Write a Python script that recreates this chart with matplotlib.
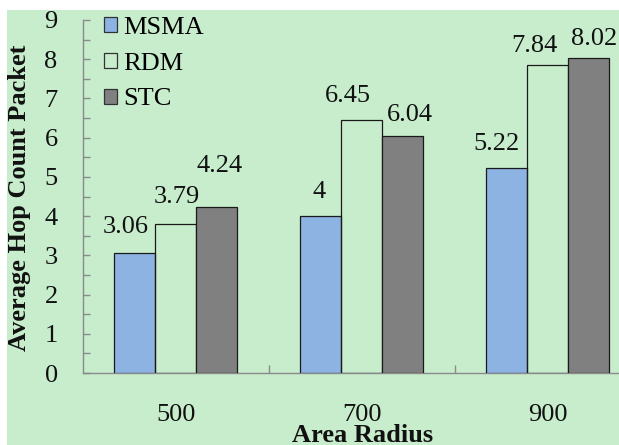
import matplotlib
matplotlib.use("Agg")
import matplotlib.pyplot as plt
from matplotlib import font_manager as fm
from matplotlib.patches import Rectangle, Patch
from matplotlib.ticker import MultipleLocator
import numpy as np

# ---- data ----
radii = ["500", "700", "900"]
series_names = ["MSMA", "RDM", "STC"]
msma = [3.06, 4, 5.22]
rdm = [3.79, 6.45, 7.84]
stc = [4.24, 6.04, 8.02]
y_ticks = [0, 1, 2, 3, 4, 5, 6, 7, 8, 9]

# ---- style ----
W, H, DPI = 619, 445, 100
bg_green = "#C8EDCC"
bar_colors = ["#8DB3E2", "none", "#808080"]
axis_gray = "#8A8A8A"
fs = 19


def serif_font(weight):
    """Pick the Liberation Serif file for the given weight."""
    want = "Bold" if weight == "bold" else "Regular"
    for f in fm.fontManager.ttflist:
        base = f.fname.replace("\\", "/").split("/")[-1]
        if base.startswith("LiberationSerif-" + want):
            return fm.FontProperties(fname=f.fname, size=fs)
    return fm.FontProperties(family="serif", weight=weight, size=fs)


fp_reg = serif_font("normal")
fp_bold = serif_font("bold")
plt.rcParams["font.size"] = fs

# label offsets (pixels) from the top-centre of each bar
label_offsets = [
    [(-9.5, 20), (-1.5, 18.5), (-10, 18.5)],
    [(1, 21), (-13.5, 18.5), (-13, 13)],
    [(2.5, 35), (7.5, 15), (5.5, 13.5)],
]

fig = plt.figure(figsize=(W / DPI, H / DPI), dpi=DPI, facecolor="white")
fig.add_artist(Rectangle((7 / W, 0), (W - 7) / W, (H - 10) / H,
                         transform=fig.transFigure, facecolor=bg_green,
                         edgecolor="none", zorder=-10))

x0, y0 = 82.7, 373.0          # axes origin in pixels (from top-left)
group_w = 186.0
ytop = 20.0
ax = fig.add_axes([x0 / W, (H - y0) / H, 3 * group_w / W, (y0 - ytop) / H])
ax.set_facecolor("none")

x = np.arange(len(radii))
bw = 0.22
all_series = [msma, rdm, stc]
for i, (vals, name, col) in enumerate(zip(all_series, series_names, bar_colors)):
    xs = x + (i - 1) * bw
    ax.bar(xs, vals, width=bw, color=col, edgecolor="#1a1a1a",
           linewidth=0.9, label=name, zorder=3)
    for xi, v, off in zip(xs, vals, label_offsets[i]):
        ax.annotate(f"{v:g}", xy=(xi, v), xytext=off,
                    textcoords="offset pixels", ha="center", va="baseline",
                    fontproperties=fp_reg, color="#111111", zorder=4)

ax.set_xlim(-0.5, 2.5)
ax.set_ylim(0, 9)
ax.yaxis.set_minor_locator(MultipleLocator(0.5))
ax.set_xticks([0.5, 1.5], minor=True)

for s in ["top", "right"]:
    ax.spines[s].set_visible(False)
for s in ["left", "bottom"]:
    ax.spines[s].set_color(axis_gray)
    ax.spines[s].set_linewidth(1.0)

ax.tick_params(axis="y", which="both", direction="in", length=5.3,
               color=axis_gray, width=1.0, pad=18, labelcolor="#111111")
ax.tick_params(axis="x", which="major", length=0, pad=22,
               labelcolor="#111111")
ax.tick_params(axis="x", which="minor", direction="in", length=6,
               color=axis_gray, width=1.0)

ax.set_yticks(y_ticks)
ax.set_yticklabels([str(t) for t in y_ticks], fontproperties=fp_reg)
ax.set_xticks(x)
ax.set_xticklabels(radii, fontproperties=fp_reg)

# axis titles
fig.text(26 / W, (H - 197.5) / H, "Average Hop Count Packet",
         rotation=90, rotation_mode="anchor", ha="center", va="baseline",
         fontproperties=fp_bold, color="#111111")
fig.text(363 / W, 3 / H, "Area Radius", ha="center", va="baseline",
         fontproperties=fp_bold, color="#111111")

handles = [Patch(facecolor=c, edgecolor="#333333", linewidth=0.9)
           for c in bar_colors]
leg = ax.legend(handles, series_names, loc="upper left",
                bbox_to_anchor=(104 / W, (H - 17) / H),
                bbox_transform=fig.transFigure, frameon=False,
                handlelength=0.5, handleheight=0.5, handletextpad=0.22,
                labelspacing=0.52, borderpad=0, borderaxespad=0,
                prop=fp_reg)

fig.savefig("out.png", dpi=DPI, facecolor="white")
